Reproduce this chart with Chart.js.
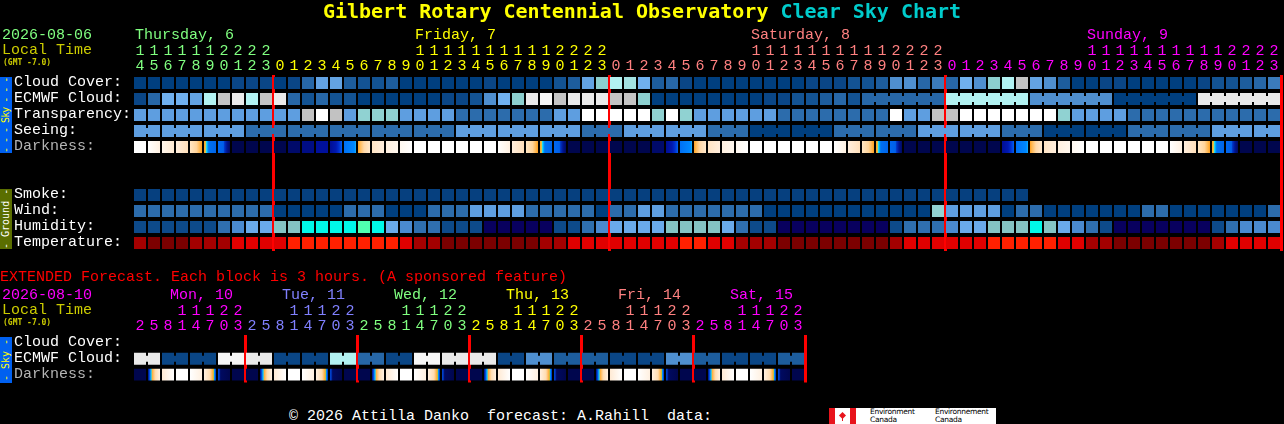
<!DOCTYPE html>
<html>
<head>
<meta charset="utf-8">
<title>Gilbert Rotary Centennial Observatory Clear Sky Chart</title>
<script src="https://cdn.jsdelivr.net/npm/chart.js@4.4.1/dist/chart.umd.min.js"></script>
<style>
  html, body { margin: 0; padding: 0; background: #000; }
  body { position: relative; width: 1284px; height: 424px; overflow: hidden; font-family: 'Liberation Mono', monospace; }
  canvas { position: absolute; left: 0; }
  .t { position: absolute; white-space: pre; font-size: 15px; line-height: 15px; }
  .gmt { position: absolute; left: 3px; font-family: 'DejaVu Sans Mono', monospace; font-size: 8px; line-height: 8px;
         font-weight: bold; color: #cccc00; white-space: pre; }
  .side { position: absolute; left: 0; width: 12px; writing-mode: vertical-rl; transform: rotate(180deg);
          font-family: 'DejaVu Sans Mono', monospace; text-align: center; font-size: 10px; line-height: 12px;
          white-space: pre; overflow: hidden; }
  #title { position: absolute; left: 0; top: 1px; width: 1284px; text-align: center; font-family: 'DejaVu Sans Mono', monospace;
           font-size: 20px; line-height: 20px; font-weight: bold; white-space: pre; }
  #ec { position: absolute; left: 829px; top: 408px; width: 167px; height: 16px; background: #fff; }
  #ec .r { position: absolute; background: #e8141c; }
  #ec .n { position: absolute; top: 0; font: 7.5px/8px 'DejaVu Sans', sans-serif; color: #000; white-space: pre; letter-spacing: -0.3px; }
</style>
</head>
<body>
<canvas id="topChart" width="1284" height="260" style="top:0"></canvas>
<canvas id="extChart" width="1284" height="130" style="top:260px"></canvas>

<div id="title"><span style="color:#ffff00">Gilbert Rotary Centennial Observatory</span><span style="color:#00cccc"> Clear Sky Chart</span></div>
<div class="t" style="left:2px;top:28px;color:#80ff80">2026-08-06</div>
<div class="t" style="left:2px;top:43px;color:#cccc00">Local Time</div>
<div class="gmt" style="top:59px">(GMT -7.0)</div>
<div class="side" style="top:77px;height:76px;background:#0060f0;color:#ffff00;letter-spacing:-1px">- - - Sky - - -</div>
<div class="side" style="top:189px;height:60px;background:#5a6e00;color:#ffffff">- Ground -</div>

<div class="t" style="left:0;top:270px;color:#ff0000">EXTENDED Forecast. Each block is 3 hours. (A sponsored feature)</div>
<div class="t" style="left:2px;top:288px;color:#ff00ff">2026-08-10</div>
<div class="t" style="left:2px;top:303px;color:#cccc00">Local Time</div>
<div class="gmt" style="top:319px">(GMT -7.0)</div>
<div class="side" style="top:337px;height:46px;background:#0060f0;color:#ffff00">- Sky -</div>

<div class="t" style="left:289px;top:409px;color:#ffffff">© 2026 Attilla Danko  forecast: A.Rahill  data:</div>
<div id="ec">
  <div class="r" style="left:0;top:0;width:6px;height:16px"></div>
  <div class="r" style="left:21px;top:0;width:6px;height:16px"></div>
  <div class="r" style="left:11px;top:5px;width:5px;height:5px;transform:rotate(45deg)"></div>
  <div class="r" style="left:13px;top:9px;width:1px;height:4px"></div>
  <div class="n" style="left:41px">Environment
Canada</div>
  <div class="n" style="left:106px">Environnement
Canada</div>
</div>

<script>
const MONO = "'Liberation Mono', monospace";

// --- hourly block: Thursday 14h .. Sunday 23h ---
const hoursThu = [14, 15, 16, 17, 18, 19, 20, 21, 22, 23];
const hoursDay = [0, 1, 2, 3, 4, 5, 6, 7, 8, 9, 10, 11, 12, 13, 14, 15, 16, 17, 18, 19, 20, 21, 22, 23];
const topHours = [...hoursThu, ...hoursDay, ...hoursDay, ...hoursDay];
const topDays = ['Thursday, 6', 'Friday, 7', 'Saturday, 8', 'Sunday, 9'];
const topDayColors = ['#80ff80', '#ffff00', '#ff8080', '#ff00ff'];
const topRows = ['Cloud Cover:', 'ECMWF Cloud:', 'Transparency:', 'Seeing:', 'Darkness:', '', '',
                 'Smoke:', 'Wind:', 'Humidity:', 'Temperature:'];

// cloud levels, 0 = clear .. 14 = overcast (index into CLOUD)
const cloudCover = [
  0, 0, 0, 0, 0, 0, 0, 1, 1, 1,
  0, 1, 4, 7, 7, 3, 2, 2, 3, 0, 0, 0, 0, 0, 0, 1, 0, 0, 0, 0, 2, 3, 7, 9,
  11, 10, 8, 3, 4, 1, 0, 0, 0, 0, 0, 0, 0, 0, 1, 1, 1, 2, 2, 3, 6, 6, 4, 5,
  4, 8, 6, 9, 11, 12, 7, 6, 3, 0, 0, 1, 1, 0, 0, 0, 0, 0, 1, 2, 2, 3, 4, 5
];
const ecmwf = [
  1, 4, 8, 8, 7, 11, 12, 13, 11, 12,
  13, 4, 2, 4, 2, 2, 0, 0, 0, 0, 0, 0, 1, 1, 2, 6, 8, 9, 13, 14, 12, 13, 13, 13,
  12, 12, 9, 0, 0, 0, 0, 0, 0, 0, 0, 1, 1, 2, 2, 3, 4, 2, 4, 4, 4, 4, 4, 4,
  11, 11, 11, 11, 11, 11, 6, 6, 6, 6, 6, 6, 0, 0, 0, 0, 0, 0, 13, 13, 13, 13, 13, 13
];
const transparency = [
  'L', 'L', 'L', 'L', 'L', 'L', 'L', 'L', 'L', 'L',
  'L', 'L', 'G', 'W', 'G', 'L', 'T', 'T', 'T', 'L', 'L', 'L', 'L', 'M', 'M', 'M', 'M', 'M', 'M', 'M', 'L', 'L', 'W', 'W',
  'W', 'W', 'W', 'T', 'W', 'T', 'L', 'L', 'L', 'L', 'L', 'L', 'M', 'M', 'M', 'M', 'M', 'M', 'M', 'M', 'W', 'L', 'L', 'G',
  'G', 'W', 'W', 'W', 'W', 'W', 'W', 'W', 'T', 'L', 'L', 'L', 'L', 'M', 'M', 'M', 'M', 'M', 'M', 'M', 'M', 'M', 'M', 'M'
];
const seeing = [
  'L', 'L', 'L', 'L', 'L', 'L', 'L', 'L', 'M', 'M',
  'M', 'M', 'M', 'M', 'M', 'M', 'M', 'M', 'M', 'M', 'M', 'M', 'M', 'L', 'L', 'L', 'L', 'L', 'L', 'L', 'L', 'L', 'M', 'M',
  'M', 'L', 'L', 'L', 'L', 'L', 'L', 'M', 'M', 'M', 'D', 'D', 'D', 'D', 'D', 'D', 'M', 'M', 'M', 'M', 'M', 'M', 'L', 'L',
  'L', 'L', 'L', 'L', 'M', 'M', 'M', 'D', 'D', 'D', 'D', 'D', 'D', 'M', 'M', 'M', 'M', 'M', 'M', 'L', 'L', 'L', 'L', 'L'
];
const darkness = [
  'W', 'A1', 'A2', 'A3', 'SS', 'T1', 'T2', 'N', 'N', 'N',
  'N', 'M1', 'M2', 'M3', 'P1', 'P2', 'SR', 'R1', 'R2', 'R3', 'W', 'W', 'W', 'W', 'W', 'W', 'A1', 'A3', 'SS', 'T1', 'T2', 'N', 'N', 'N',
  'N', 'N', 'N', 'M1', 'P1', 'P2', 'SR', 'R1', 'R2', 'R3', 'W', 'W', 'W', 'W', 'W', 'W', 'A1', 'A3', 'SS', 'T1', 'T2', 'N', 'N', 'N',
  'N', 'N', 'N', 'N', 'P1', 'P2', 'SR', 'R1', 'R2', 'R3', 'W', 'W', 'W', 'W', 'W', 'W', 'A1', 'A3', 'SS', 'T1', 'T2', 'N', 'N', 'N'
];
const smoke = [
  'S', 'S', 'S', 'S', 'S', 'S', 'S', 'S', 'S', 'S',
  'S', 'S', 'S', 'S', 'S', 'S', 'S', 'S', 'S', 'S', 'S', 'S', 'S', 'S', 'S', 'S', 'S', 'S', 'S', 'S', 'S', 'S', 'S', 'S',
  'S', 'S', 'S', 'S', 'S', 'S', 'S', 'S', 'S', 'S', 'S', 'S', 'S', 'S', 'S', 'S', 'S', 'S', 'S', 'S', 'S', 'S', 'S', 'S',
  'S', 'S', 'S', 'S', 'S', 'S', null, null, null, null, null, null, null, null, null, null, null, null, null, null, null, null, null, null
];
const wind = [
  'M', 'M', 'M', 'M', 'M', 'M', 'M', 'M', 'M', 'M',
  'D', 'D', 'D', 'D', 'D', 'M', 'M', 'M', 'D', 'D', 'D', 'M', 'M', 'M', 'L', 'L', 'L', 'L', 'M', 'M', 'M', 'M', 'M', 'D',
  'M', 'M', 'L', 'L', 'M', 'M', 'M', 'M', 'M', 'M', 'M', 'D', 'D', 'D', 'D', 'D', 'D', 'D', 'D', 'D', 'D', 'D', 'D', 'T',
  'L', 'L', 'L', 'L', 'D', 'M', 'M', 'D', 'D', 'D', 'D', 'D', 'D', 'D', 'M', 'M', 'D', 'D', 'D', 'D', 'D', 'D', 'D', 'M'
];
const humidity = [
  'D', 'D', 'D', 'D', 'D', 'D', 'M', 'B', 'L', 'L',
  'T', 'T', 'C', 'C', 'C', 'C', 'G', 'C', 'L', 'B', 'M', 'M', 'D', 'D', 'D', 'P', 'P', 'P', 'P', 'P', 'D', 'D', 'M', 'B',
  'L', 'L', 'L', 'L', 'T', 'T', 'T', 'T', 'L', 'M', 'D', 'D', 'P', 'P', 'P', 'P', 'P', 'P', 'P', 'P', 'D', 'M', 'M', 'M',
  'B', 'L', 'L', 'T', 'T', 'T', 'C', 'T', 'L', 'B', 'M', 'D', 'P', 'P', 'P', 'P', 'P', 'P', 'P', 'D', 'M', 'B', 'B', 'B'
];
const temperature = [
  'R', 'K', 'K', 'K', 'R', 'R', 'R', 'E', 'E', 'E',
  'E', 'F', 'F', 'F', 'F', 'F', 'F', 'F', 'F', 'E', 'R', 'R', 'K', 'K', 'K', 'K', 'K', 'K', 'K', 'R', 'R', 'E', 'E', 'E',
  'E', 'E', 'E', 'E', 'E', 'F', 'F', 'E', 'E', 'R', 'R', 'R', 'K', 'K', 'K', 'K', 'K', 'K', 'K', 'K', 'R', 'E', 'E', 'E',
  'E', 'E', 'E', 'F', 'F', 'F', 'F', 'F', 'E', 'E', 'R', 'R', 'K', 'K', 'K', 'K', 'K', 'K', 'K', 'R', 'E', 'E', 'E', 'E'
];

// model time steps: blocks inside one step are drawn joined
const seeingStepStarts = [1, 4, 7, 10, 13, 16, 19, 22];   // 3 h seeing steps (local hour)
const ecmwfSixHourFrom = 52;                               // ECMWF goes to 6 h steps here
const ecmwfStepStarts = [0, 6, 12, 18];

// --- extended block: 3 hour steps, Mon 10 .. Sat 15 ---
const extStep = [2, 5, 8, 11, 14, 17, 20, 23];
const extHours = [...extStep, ...extStep, ...extStep, ...extStep, ...extStep, ...extStep];
const extDays = ['Mon, 10', 'Tue, 11', 'Wed, 12', 'Thu, 13', 'Fri, 14', 'Sat, 15'];
const extDayColors = ['#ff00ff', '#8080ff', '#80ff80', '#ffff00', '#ff8080', '#ff00ff'];
const extRows = ['Cloud Cover:', 'ECMWF Cloud:', 'Darkness:'];
const extEcmwf = [
  13, 13, 1, 1, 1, 1, 14, 14,
  13, 13, 1, 1, 1, 1, 11, 11,
  4, 4, 1, 1, 14, 14, 13, 13,
  13, 13, 1, 1, 6, 6, 3, 3,
  3, 3, 1, 1, 1, 1, 6, 6,
  3, 3, 1, 1, 1, 1, 3, 3
];
const extDarkness = [
  'N', 'ESR', 'EM', 'W', 'EA', 'ESS', 'EN2', 'N',
  'N', 'ESR', 'EM', 'W', 'EA', 'ESS', 'EN2', 'N',
  'N', 'ESR', 'EM', 'W', 'EA', 'ESS', 'EN2', 'N',
  'N', 'ESR', 'EM', 'W', 'EA', 'ESS', 'EN2', 'N',
  'N', 'ESR', 'EM', 'W', 'EA', 'ESS', 'EN2', 'N',
  'N', 'ESR', 'EM', 'W', 'EA', 'ESS', 'EN2', 'N'
];
const extEcmwfStepStarts = [2, 8, 14, 20];

// --- colour keys ---
const CLOUD = ['#003f7f', '#0a4686', '#135393', '#1d5d9d', '#2767a7', '#3b7bbb', '#4f8fcf', '#63a3e3',
               '#70b0ee', '#8ccfcf', '#a2e2e2', '#b2f2f2', '#c4c4c4', '#eaeaea', '#f6f6f6'];
const TRANSP = { W: '#ffffff', G: '#c2c2c2', T: '#90d2d2', L: '#5e9ee0', M: '#2c6cac' };
const SEEING = { L: '#5e9ee0', M: '#2c6cac', D: '#003f7f' };
const SMOKE = { S: '#06407f' };
const WIND = { D: '#003f7f', M: '#2c6cac', L: '#5e9ee0', T: '#92d2d2' };
const HUMID = { P: '#08005e', D: '#0d4a8a', M: '#2f6faf', B: '#4a8ad0', L: '#6aaaea', T: '#84c4c4', C: '#00f8e8', G: '#50ffb0' };
const TEMP = { K: '#7c0000', R: '#a40000', E: '#e00000', F: '#ff2000' };
// darkness: plain colour or left-to-right gradient inside the block
const DARK = {
  W: '#ffffff',
  A1: [[0, '#ffffff'], [1, '#fff1e2']],
  A2: [[0, '#fff6ec'], [1, '#ffead2']],
  A3: [[0, '#ffeedd'], [1, '#ffdfba']],
  SS: [[0, '#ffe6c4'], [0.55, '#ffd49a'], [0.85, '#ffb448'], [1, '#ffa020']],
  T1: [[0, '#ffa020'], [0.12, '#e8c040'], [0.18, '#30e8e8'], [0.28, '#00b0ff'], [0.4, '#0070f0'], [1, '#0064e8']],
  T2: [[0, '#0068f0'], [0.45, '#0060e8'], [0.55, '#0034c4'], [0.75, '#001490'], [1, '#000a60']],
  N: '#00064e',
  M1: '#000a6a',
  M2: '#000d84',
  M3: '#00109c',
  P1: [[0, '#000e94'], [0.5, '#0018b0'], [0.75, '#0030d0'], [1, '#0060f0']],
  P2: [[0, '#0070f4'], [0.85, '#0088ff'], [1, '#10b0ff']],
  SR: [[0, '#ffa020'], [0.15, '#ffb850'], [0.5, '#ffd8a8'], [1, '#ffe8cc']],
  R1: [[0, '#ffe4c4'], [1, '#ffeedd']],
  R2: [[0, '#fff0e0'], [1, '#fff7ee']],
  R3: [[0, '#fff8f0'], [1, '#ffffff']],
  ESR: [[0, '#000c80'], [0.12, '#0048d8'], [0.2, '#0090ff'], [0.28, '#40c8d0'], [0.36, '#ffb040'], [0.6, '#ffdcb0'], [1, '#fff2e4']],
  EM: [[0, '#ffead4'], [1, '#ffffff']],
  EA: [[0, '#ffffff'], [1, '#fff0e0']],
  ESS: [[0, '#fff0e0'], [0.5, '#ffdcb0'], [0.72, '#ffb040'], [0.8, '#c0c040'], [0.86, '#00a0ff'], [0.93, '#0050e0'], [1, '#0040c8']],
  EN2: [[0, '#0048d8'], [0.12, '#0030b0'], [0.22, '#000a60'], [1, '#00064e']]
};

const CELL = 12;        // block size, px
const HALF = 0.375;     // half a block in row units (rows are 16 px)
const BRIDGE = 0.1875;  // half height of the joint between blocks

function gradientFill(chart, index, stops) {
  const c = chart.scales.x.getPixelForValue(index);
  const g = chart.ctx.createLinearGradient(c - CELL / 2, 0, c + CELL / 2, 0);
  stops.forEach(([p, col]) => g.addColorStop(p, col));
  return g;
}

function cellSet(values, row, key) {
  return {
    data: values.map(v => (v === null ? null : [row - HALF, row + HALF])),
    backgroundColor: ctx => {
      if (ctx.dataIndex === undefined) return 'rgba(0,0,0,0)';
      const style = key[values[ctx.dataIndex]];
      return Array.isArray(style) ? gradientFill(ctx.chart, ctx.dataIndex, style) : style;
    }
  };
}

function bridgeSet(values, row, hours, stepStarts, from, key) {
  const pts = [];
  for (let i = from; i < values.length - 1; i++) {
    if (values[i] !== null && values[i] === values[i + 1] && !stepStarts.includes(hours[i + 1])) {
      pts.push({ x: i + 0.5, y: [row - BRIDGE, row + BRIDGE], c: key[values[i]] });
    }
  }
  return { xAxisID: 'xb', data: pts, backgroundColor: pts.map(p => p.c), barThickness: 4 };
}

function dayOf(hours) {
  let d = 0;
  return hours.map((h, i) => (i > 0 && h < hours[i - 1] ? ++d : d));
}

function hourLabel(h) {
  const s = String(h);
  return s.length > 1 ? [s[0], s[1]] : ['', s];
}

function gridChart(id, o) {
  const n = o.hours.length;
  const days = dayOf(o.hours);
  const breaks = days.map((d, i) => (i > 0 && d !== days[i - 1] ? i : -1)).filter(i => i > 0);
  const font = { family: MONO, size: 15, lineHeight: 1 };
  return new Chart(document.getElementById(id), {
    type: 'bar',
    data: { labels: o.hours.map(hourLabel), datasets: o.datasets },
    options: {
      responsive: false,
      animation: false,
      devicePixelRatio: 1,
      events: [],
      layout: { padding: { left: 14, top: 0, right: o.padRight, bottom: o.padBottom } },
      plugins: { legend: { display: false }, tooltip: { enabled: false } },
      datasets: { bar: { grouped: false, borderWidth: 0, inflateAmount: 0, barThickness: CELL } },
      scales: {
        x: {
          type: 'category',
          position: 'top',
          offset: true,
          border: { display: false },
          grid: {
            offset: true,
            drawTicks: false,
            lineWidth: 3,
            // red line at every day change and at the right end
            color: c => (c.index === undefined || breaks.includes(c.index) ? '#ff0000' : 'rgba(0,0,0,0)')
          },
          ticks: {
            autoSkip: false, maxRotation: 0, minRotation: 0, padding: 1, font,
            color: c => o.dayColors[days[c.index]]
          },
          afterFit: s => { s.height = 75; }
        },
        xb: { type: 'linear', axis: 'x', display: false, offset: false, min: -0.5, max: n - 0.5 },
        y: {
          type: 'linear',
          reverse: true,
          min: -0.5,
          max: o.rows.length - 0.5,
          grid: { display: false },
          border: { display: false },
          afterBuildTicks: s => { s.ticks = o.rows.map((_, i) => ({ value: i })); },
          ticks: {
            autoSkip: false, crossAlign: 'far', padding: 0, labelOffset: -1, font,
            color: c => (o.rows[c.index] === 'Darkness:' ? '#b4b4b4' : '#ffffff'),
            callback: v => o.rows[v] || ''
          },
          afterFit: s => { s.width = 119; }
        }
      }
    }
  });
}

function dayLabel(textStr, left, top, color) {
  const el = document.createElement('div');
  el.className = 't';
  el.style.left = left + 'px';
  el.style.top = top + 'px';
  el.style.color = color;
  el.textContent = textStr;
  document.body.appendChild(el);
}

const topChart = gridChart('topChart', {
  hours: topHours, rows: topRows, dayColors: topDayColors, padRight: 3, padBottom: 9,
  datasets: [
    cellSet(cloudCover, 0, CLOUD),
    cellSet(ecmwf, 1, CLOUD),
    bridgeSet(ecmwf, 1, topHours, ecmwfStepStarts, ecmwfSixHourFrom, CLOUD),
    cellSet(transparency, 2, TRANSP),
    cellSet(seeing, 3, SEEING),
    bridgeSet(seeing, 3, topHours, seeingStepStarts, 0, SEEING),
    cellSet(darkness, 4, DARK),
    cellSet(smoke, 7, SMOKE),
    cellSet(wind, 8, WIND),
    cellSet(humidity, 9, HUMID),
    cellSet(temperature, 10, TEMP)
  ]
});

const extChart = gridChart('extChart', {
  hours: extHours, rows: extRows, dayColors: extDayColors, padRight: 479, padBottom: 7,
  datasets: [
    cellSet(extEcmwf, 1, CLOUD),
    bridgeSet(extEcmwf, 1, extHours, extEcmwfStepStarts, 0, CLOUD),
    cellSet(extDarkness, 2, DARK)
  ]
});

// day names: hourly block puts them where the two-digit hours begin
const topDayIdx = dayOf(topHours);
topDays.forEach((name, d) => {
  const i = topHours.findIndex((h, k) => topDayIdx[k] === d && h >= 10);
  dayLabel(name, topChart.scales.x.getPixelForValue(i) - 5, 28, topDayColors[d]);
});
const extDayIdx = dayOf(extHours);
extDays.forEach((name, d) => {
  const i = extDayIdx.indexOf(d);
  dayLabel(name, extChart.scales.x.getPixelForValue(i) + 30, 288, extDayColors[d]);
});
</script>
</body>
</html>
